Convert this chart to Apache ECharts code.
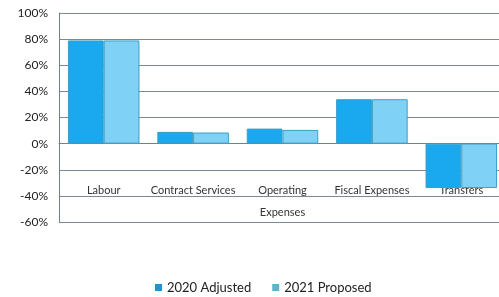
<html>
<head>
    <meta charset="utf-8">
    <script src="https://cdn.jsdelivr.net/npm/echarts@6/dist/echarts.min.js"></script>
</head>
<body style="margin:0;background:#fff">
<div id="main" style="width:499px;height:297px;"></div>
<script type="text/javascript">
    var categories = ['Labour', 'Contract Services', 'Operating', 'Fiscal Expenses', 'Transfers'];
    var adjusted2020 = [79, 9, 11.5, 34, -34];
    var proposed2021 = [79, 8.5, 10.5, 34, -34];

    var myChart = echarts.init(document.getElementById('main'));
    var option = {
        textStyle: { fontFamily: 'Lato' },
        grid: { left: 59, right: -7, top: 13, bottom: 75, outerBoundsMode: 'none', containLabel: false },
        legend: {
            top: 276,
            left: 150,
            itemWidth: 7,
            itemHeight: 7,
            itemGap: 21,
            icon: 'rect',
            textStyle: { fontSize: 13, color: '#222', fontFamily: 'Lato' },
            data: [
                { name: '2020 Adjusted', itemStyle: { color: '#2192cc', borderWidth: 0 } },
                { name: '2021 Proposed', itemStyle: { color: '#5fb4c8', borderWidth: 0 } }
            ]
        },
        xAxis: [{
            type: 'category',
            data: categories,
            position: 'bottom',
            name: 'Expenses',
            nameLocation: 'middle',
            nameGap: -10,
            nameTextStyle: { fontSize: 11, color: '#333', verticalAlign: 'middle' },
            axisLine: { show: false },
            axisTick: { show: false },
            axisLabel: { margin: -37, fontSize: 11, color: '#333', interval: 0 }
        }, {
            type: 'category',
            data: categories,
            position: 'bottom',
            offset: -79,
            axisLine: { show: true, lineStyle: { color: '#6d8196' } },
            axisTick: { length: 4, lineStyle: { color: '#6d8196' } },
            axisLabel: { show: false }
        }],
        yAxis: {
            type: 'value',
            min: -60,
            max: 100,
            interval: 20,
            axisLine: { show: true, lineStyle: { color: '#6d8196' } },
            axisTick: { show: false },
            axisLabel: { formatter: '{value}%', fontSize: 12, color: '#222', margin: 11 },
            splitLine: { lineStyle: { color: '#7b8a99' } }
        },
        series: [{
            name: '2020 Adjusted',
            type: 'bar',
            data: adjusted2020,
            barGap: '0%',
            barCategoryGap: '20%',
            itemStyle: { color: '#1aa8ef', borderColor: '#3c9fc4', borderWidth: 1 }
        }, {
            name: '2021 Proposed',
            type: 'bar',
            data: proposed2021,
            itemStyle: { color: '#7fd2f6', borderColor: '#3c9fc4', borderWidth: 1 }
        }]
    };
    myChart.setOption(option);
</script>
</body>
</html>
